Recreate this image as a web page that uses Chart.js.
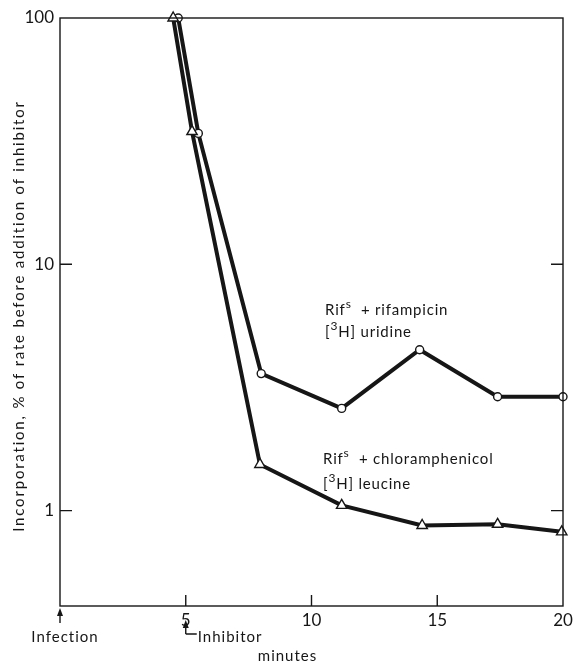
<!DOCTYPE html>
<html>
<head>
<meta charset="utf-8">
<script src="https://cdn.jsdelivr.net/npm/chart.js@4.4.0/dist/chart.umd.min.js"></script>
<style>
  html, body { margin: 0; padding: 0; background: #fff; }
  #wrap { width: 578px; height: 664px; }
</style>
</head>
<body>
<div id="wrap"><canvas id="chart" width="578" height="664"></canvas></div>
<script>
// minutes after infection, incorporation in % of rate before inhibitor
const uridineMin = [4.7, 5.5, 8.0, 11.2, 14.3, 17.4, 20.0];
const uridinePct = [100, 34, 3.6, 2.6, 4.5, 2.9, 2.9];
const leucineMin = [4.5, 5.25, 7.95, 11.2, 14.4, 17.4, 19.95];
const leucinePct = [100, 34.6, 1.54, 1.05, 0.87, 0.88, 0.82];

const xTicks = [5, 10, 15, 20];
const yTicks = [1, 10, 100];

const yTitle = "Incorporation, % of rate before addition of inhibitor";
const xTitle = "minutes";

const ink = "#161616";
const fontFam = "Lato, 'DejaVu Sans', sans-serif";

const toPoints = (xs, ys) => xs.map((x, i) => ({ x: x, y: ys[i] }));

// text with a small raised "s" and "3"
function richText(ctx, parts, x, y) {
    let cx = x;
    for (const p of parts) {
        ctx.font = p.sup ? "12px " + fontFam : "15px " + fontFam;
        ctx.fillText(p.t, cx, p.sup ? y - 7 : y);
        cx += ctx.measureText(p.t).width;
    }
}

const decor = {
    id: "decor",
    afterDraw(chart) {
        const ctx = chart.ctx;
        const a = chart.chartArea;
        const sx = chart.scales.x, sy = chart.scales.y;
        ctx.save();
        ctx.strokeStyle = ink;
        ctx.fillStyle = ink;
        ctx.lineWidth = 1.4;
        // frame
        ctx.strokeRect(a.left, a.top, a.right - a.left, a.bottom - a.top);
        // inward ticks
        ctx.beginPath();
        for (const v of [1, 10]) {
            const py = sy.getPixelForValue(v);
            ctx.moveTo(a.left, py); ctx.lineTo(a.left + 12, py);
            ctx.moveTo(a.right, py); ctx.lineTo(a.right - 12, py);
        }
        for (const v of [5, 10, 15]) {
            const px = sx.getPixelForValue(v);
            ctx.moveTo(px, a.bottom); ctx.lineTo(px, a.bottom - 11);
        }
        ctx.stroke();

        ctx.textBaseline = "alphabetic";
        ctx.letterSpacing = "1px";

        // Infection arrow at time 0
        const x0 = sx.getPixelForValue(0);
        ctx.beginPath();
        ctx.moveTo(x0, a.bottom + 17); ctx.lineTo(x0, a.bottom + 6);
        ctx.stroke();
        ctx.beginPath();
        ctx.moveTo(x0, a.bottom + 2); ctx.lineTo(x0 - 3, a.bottom + 10); ctx.lineTo(x0 + 3, a.bottom + 10);
        ctx.closePath(); ctx.fill();
        ctx.font = "15px " + fontFam;
        ctx.textAlign = "center";
        ctx.fillText("Infection", x0 + 5, a.bottom + 36);

        // Inhibitor arrow at 5 min
        const x5 = sx.getPixelForValue(5);
        ctx.beginPath();
        ctx.moveTo(x5, a.bottom + 28); ctx.lineTo(x5, a.bottom + 19);
        ctx.moveTo(x5, a.bottom + 28); ctx.lineTo(x5 + 11, a.bottom + 28);
        ctx.stroke();
        ctx.beginPath();
        ctx.moveTo(x5, a.bottom + 14); ctx.lineTo(x5 - 3, a.bottom + 22); ctx.lineTo(x5 + 3, a.bottom + 22);
        ctx.closePath(); ctx.fill();
        ctx.textAlign = "left";
        ctx.fillText("Inhibitor", x5 + 12, a.bottom + 36);

        // x title
        ctx.textAlign = "center";
        ctx.fillText(xTitle, (a.left + a.right) / 2 - 24, a.bottom + 55);

        // y title
        ctx.save();
        ctx.translate(24, a.top + 298);
        ctx.rotate(-Math.PI / 2);
        ctx.letterSpacing = "1.8px";
        ctx.fillText(yTitle, 0, 0);
        ctx.restore();

        // series labels
        ctx.textAlign = "left";
        ctx.letterSpacing = "0.8px";
        let lx = sx.getPixelForValue(10.54), ly = sy.getPixelForValue(6.2);
        richText(ctx, [{ t: "Rif" }, { t: "s", sup: true }, { t: "  + rifampicin" }], lx, ly);
        richText(ctx, [{ t: "[" }, { t: "3", sup: true }, { t: "H] uridine" }], lx, ly + 22);
        lx = sx.getPixelForValue(10.46); ly = sy.getPixelForValue(1.55);
        richText(ctx, [{ t: "Rif" }, { t: "s", sup: true }, { t: "  + chloramphenicol" }], lx, ly);
        richText(ctx, [{ t: "[" }, { t: "3", sup: true }, { t: "H] leucine" }], lx, ly + 25);
        ctx.restore();
    }
};

new Chart(document.getElementById("chart"), {
    type: "line",
    plugins: [decor],
    data: {
        datasets: [
            {
                label: "[3H] leucine",
                data: toPoints(leucineMin, leucinePct),
                borderColor: ink,
                borderWidth: 4,
                pointStyle: "triangle",
                pointRadius: 6,
                pointBorderWidth: 1.4,
                pointBackgroundColor: "#fff",
                pointBorderColor: ink,
                clip: false,
            },
            {
                label: "[3H] uridine",
                data: toPoints(uridineMin, uridinePct),
                borderColor: ink,
                borderWidth: 4,
                pointStyle: "circle",
                pointRadius: 4,
                pointBorderWidth: 1.4,
                pointBackgroundColor: "#fff",
                pointBorderColor: ink,
                clip: false,
            },
        ],
    },
    options: {
        responsive: false,
        animation: false,
        layout: { padding: { top: 18, right: 15, left: 0, bottom: 0 } },
        plugins: { legend: { display: false }, tooltip: { enabled: false } },
        scales: {
            x: {
                type: "linear",
                min: 0,
                max: 20,
                grid: { display: false, drawTicks: false },
                border: { display: false },
                afterBuildTicks: (s) => { s.ticks = xTicks.map(v => ({ value: v })); },
                afterFit: (s) => { s.height = 58; },
                ticks: { color: ink, padding: 4, maxRotation: 0, font: { family: "Lato", size: 17 } },
            },
            y: {
                type: "logarithmic",
                min: 0.41,
                max: 100,
                grid: { display: false, drawTicks: false },
                border: { display: false },
                afterBuildTicks: (s) => { s.ticks = yTicks.map(v => ({ value: v })); },
                afterFit: (s) => { s.width = 60; },
                ticks: { color: ink, padding: 6, font: { family: "Lato", size: 17 }, callback: (v) => String(v) },
            },
        },
    },
});
</script>
</body>
</html>
